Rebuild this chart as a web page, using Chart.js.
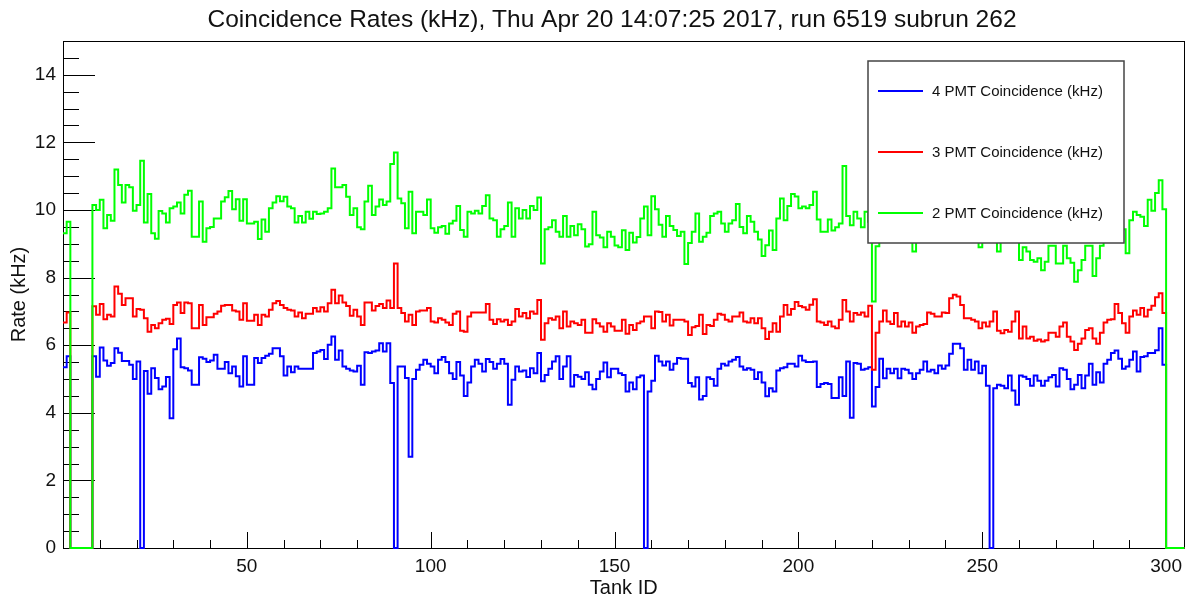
<!DOCTYPE html>
<html>
<head>
<meta charset="utf-8">
<title>Coincidence Rates</title>
<script src="https://cdn.jsdelivr.net/npm/chart.js@4/dist/chart.umd.min.js"></script>
<style>
  html, body { margin: 0; padding: 0; background: #fff; }
  #wrap { width: 1189px; height: 603px; position: relative; }
</style>
</head>
<body>
<div id="wrap"><canvas id="rates"></canvas></div>
<script>
const TITLE = "Coincidence Rates (kHz), Thu Apr 20 14:07:25 2017, run 6519 subrun 262";
const seriesLabels = ["4 PMT Coincidence (kHz)", "3 PMT Coincidence (kHz)", "2 PMT Coincidence (kHz)"];
const seriesColors = ["#0000ff", "#ff0000", "#00ff00"];
const xTickLabels = [50, 100, 150, 200, 250, 300];
const yTickLabels = [0, 2, 4, 6, 8, 10, 12, 14];

// one value per tank bin, bins 0..304
const pmt4 = [
  5.35, 5.67, 0, 0, 0, 0, 0, 0, 5.67, 5.07,
  5.93, 5.55, 5.39, 5.47, 5.91, 5.78, 5.53, 5.53, 5.42, 5.0,
  5.52, 0, 5.24, 4.56, 5.32, 5.03, 4.7, 4.78, 5.06, 3.84,
  5.88, 6.2, 5.35, 5.32, 5.25, 4.83, 4.83, 5.64, 5.6, 5.5,
  5.55, 5.72, 5.3, 5.3, 5.5, 5.17, 5.37, 5.08, 4.78, 5.67,
  4.83, 4.83, 5.62, 5.47, 5.62, 5.69, 5.75, 5.91, 5.91, 5.67,
  5.1, 5.37, 5.2, 5.37, 5.3, 5.3, 5.3, 5.3, 5.77, 5.81,
  5.86, 5.59, 6.01, 6.26, 5.57, 5.84, 5.37, 5.3, 5.25, 5.22,
  5.39, 4.83, 5.79, 5.77, 5.81, 5.84, 6.06, 5.81, 6.06, 4.88,
  0, 5.37, 5.37, 5.03, 2.7, 5.0, 5.27, 5.42, 5.57, 5.45,
  5.37, 5.17, 5.57, 5.65, 5.5, 5.17, 5.0, 5.5, 5.1, 4.5,
  4.9, 5.37, 5.57, 5.45, 5.22, 5.59, 5.5, 5.3, 5.45, 5.59,
  5.45, 4.24, 4.98, 5.37, 5.22, 5.25, 5.06, 5.32, 5.17, 5.77,
  4.93, 5.12, 5.3, 5.52, 5.67, 5.0, 5.37, 5.67, 4.78, 5.12,
  5.07, 5.0, 5.2, 4.83, 4.7, 5.0, 5.22, 5.49, 5.05, 5.3,
  5.3, 5.17, 5.12, 4.63, 4.9, 4.7, 5.05, 5.1, 0, 4.63,
  4.95, 5.69, 5.52, 5.4, 5.52, 5.27, 5.45, 5.62, 5.6, 5.6,
  4.88, 4.78, 5.05, 4.39, 4.5, 5.05, 5.0, 4.8, 5.3, 5.45,
  5.4, 5.52, 5.57, 5.65, 5.37, 5.27, 5.32, 5.27, 5.0, 5.2,
  4.9, 4.49, 4.73, 4.63, 5.25, 5.32, 5.35, 5.45, 5.45, 5.37,
  5.69, 5.55, 5.5, 5.5, 5.52, 4.76, 4.85, 4.88, 4.85, 4.44,
  4.44, 5.05, 4.5, 5.52, 3.85, 5.47, 5.45, 5.27, 5.3, 5.35,
  4.19, 4.76, 5.6, 5.02, 5.3, 5.17, 5.3, 5.02, 5.3, 5.27,
  5.17, 5.0, 5.17, 5.27, 5.52, 5.22, 5.27, 5.17, 5.4, 5.3,
  5.4, 5.75, 6.04, 6.04, 5.91, 5.27, 5.57, 5.27, 5.52, 5.17,
  5.39, 4.8, 0, 4.73, 4.83, 4.8, 4.73, 5.1, 4.66, 4.24,
  5.1, 5.07, 5.0, 4.8, 5.1, 4.95, 4.8, 4.95, 5.05, 5.12,
  4.78, 5.32, 5.27, 5.0, 4.7, 4.83, 5.12, 4.73, 5.1, 5.45,
  4.83, 5.2, 4.9, 5.45, 5.57, 5.77, 5.84, 5.6, 5.3, 5.37,
  5.57, 5.81, 5.22, 5.65, 5.67, 5.77, 5.77, 5.85, 6.5, 5.42,
  0, 0, 0, 0, 0
];

const pmt3 = [
  6.67, 6.97, 0, 0, 0, 0, 0, 0, 7.15, 6.9,
  7.22, 6.77, 6.9, 6.85, 7.74, 7.52, 7.19, 7.39, 7.39, 6.85,
  7.07, 7.05, 6.8, 6.4, 6.6, 6.5, 6.65, 6.75, 6.78, 6.63,
  7.19, 7.26, 6.95, 7.26, 7.24, 6.5, 6.5, 7.19, 6.6, 6.83,
  6.83, 6.93, 7.0, 7.17, 7.19, 7.19, 7.03, 7.0, 6.75, 7.24,
  6.72, 6.72, 6.9, 6.6, 6.9, 6.85, 7.05, 7.24, 7.31, 7.19,
  7.1, 7.05, 7.03, 6.85, 6.97, 6.8, 6.93, 6.93, 7.1, 7.0,
  7.12, 7.0, 7.24, 7.64, 7.24, 7.47, 7.26, 7.16, 6.87, 7.05,
  6.85, 6.6, 7.26, 7.26, 7.03, 7.16, 7.22, 7.1, 7.32, 7.1,
  8.42, 7.1, 6.95, 6.7, 6.9, 6.6, 7.0, 7.03, 7.03, 7.1,
  6.7, 6.67, 6.8, 6.75, 6.67, 6.6, 6.93, 7.0, 6.43, 6.4,
  6.85, 6.97, 6.97, 6.97, 6.97, 7.22, 6.75, 6.63, 6.77, 6.7,
  6.75, 6.6, 6.7, 7.07, 6.85, 6.95, 6.8, 7.0, 6.93, 7.34,
  6.16, 6.65, 6.8, 6.75, 6.85, 6.5, 7.0, 6.55, 6.7, 6.65,
  6.6, 6.75, 6.37, 6.37, 6.77, 6.65, 6.55, 6.4, 6.65, 6.55,
  6.43, 6.43, 6.75, 6.34, 6.6, 6.45, 6.65, 6.7, 6.85, 6.85,
  6.5, 7.0, 6.98, 6.7, 6.9, 6.58, 6.75, 6.75, 6.75, 6.7,
  6.3, 6.53, 6.57, 6.9, 6.33, 6.6, 6.57, 6.75, 6.93, 6.9,
  6.75, 6.7, 6.85, 6.85, 6.97, 6.7, 6.67, 6.8, 6.65, 6.8,
  6.5, 6.18, 6.4, 6.65, 6.4, 6.85, 7.19, 6.9, 7.07, 7.28,
  7.16, 7.12, 7.05, 7.2, 7.36, 6.7, 6.67, 6.6, 6.7, 6.55,
  6.5, 6.75, 7.34, 7.0, 6.7, 6.95, 6.9, 6.97, 6.85, 7.17,
  5.27, 6.37, 6.7, 7.03, 6.7, 6.63, 6.95, 6.55, 6.7, 6.55,
  6.67, 6.37, 6.55, 6.6, 6.63, 6.97, 6.93, 6.85, 6.85, 6.97,
  6.95, 7.39, 7.49, 7.44, 7.19, 6.8, 6.8, 6.75, 6.7, 6.5,
  6.67, 6.55, 6.7, 7.0, 6.43, 6.35, 6.45, 6.4, 6.7, 7.0,
  6.2, 6.55, 6.2, 6.25, 6.13, 6.17, 6.11, 6.15, 6.37, 6.37,
  6.25, 6.55, 6.67, 6.25, 6.11, 5.86, 6.04, 6.2, 6.45, 6.5,
  6.2, 6.04, 6.37, 6.67, 6.75, 6.77, 7.22, 6.95, 6.65, 6.37,
  6.85, 7.03, 6.9, 7.1, 6.85, 7.05, 7.17, 7.42, 7.54, 6.95,
  0, 0, 0, 0, 0
];

const pmt2 = [
  9.31, 9.65, 0, 0, 0, 0, 0, 0, 10.15, 10.0,
  10.3, 9.46, 9.85, 9.68, 11.2, 10.74, 10.22, 10.74, 10.67, 9.98,
  10.15, 11.46, 9.63, 10.47, 9.31, 9.15, 9.97, 9.9, 9.63, 10.05,
  10.1, 10.22, 9.9, 10.45, 10.57, 9.21, 9.21, 10.25, 9.06, 9.46,
  9.5, 9.75, 9.75, 10.25, 10.38, 10.56, 10.02, 10.32, 9.68, 10.32,
  9.6, 9.6, 9.65, 9.14, 9.72, 9.36, 10.05, 10.22, 10.41, 10.26,
  10.39, 10.1, 10.05, 9.63, 9.82, 9.63, 9.95, 9.74, 9.95, 9.88,
  9.9, 9.95, 10.05, 11.23, 10.67, 10.67, 10.74, 10.39, 9.85, 10.05,
  9.49, 9.43, 10.25, 10.72, 9.85, 10.1, 10.31, 10.15, 10.25, 11.36,
  11.7, 10.34, 10.2, 9.46, 10.54, 9.31, 9.95, 9.95, 9.85, 10.31,
  9.46, 9.33, 9.49, 9.53, 9.3, 9.6, 9.68, 10.12, 9.41, 9.21,
  9.95, 9.9, 9.98, 9.9, 10.12, 10.44, 9.75, 9.7, 9.21, 9.43,
  9.53, 10.22, 9.21, 10.05, 9.75, 10.0, 9.75, 10.12, 10.0, 10.37,
  8.42, 9.43, 9.49, 9.7, 9.36, 9.21, 9.82, 9.21, 9.53, 9.25,
  9.58, 9.43, 8.92, 8.99, 9.95, 9.25, 9.19, 8.9, 9.36, 9.21,
  8.95, 8.9, 9.4, 8.82, 9.33, 9.04, 9.2, 9.75, 10.1, 9.25,
  10.41, 10.02, 9.56, 9.21, 9.82, 9.53, 9.41, 9.23, 9.36, 8.4,
  9.02, 9.36, 9.9, 9.06, 9.21, 9.33, 9.82, 9.9, 9.95, 9.6,
  9.36, 9.6, 9.7, 10.18, 9.5, 9.31, 9.82, 9.65, 9.36, 9.13,
  8.64, 8.96, 9.39, 8.82, 9.75, 10.34, 9.7, 10.12, 10.47, 10.4,
  10.05, 10.1, 10.05, 10.15, 10.54, 9.72, 9.36, 9.36, 9.72, 9.39,
  9.49, 9.6, 11.3, 9.82, 9.55, 9.95, 9.75, 9.49, 9.95, 9.65,
  7.29, 8.93, 9.4, 9.6, 9.3, 9.5, 9.8, 9.4, 9.2, 9.6,
  9.3, 8.77, 9.5, 9.7, 9.4, 9.9, 9.6, 9.3, 9.8, 9.5,
  10.0, 10.3, 10.5, 10.2, 9.8, 9.4, 9.6, 9.3, 9.5, 8.9,
  9.4, 9.2, 9.5, 9.3, 8.77, 9.2, 9.4, 9.3, 9.6, 9.2,
  8.52, 8.9, 8.77, 8.52, 8.47, 8.57, 8.22, 8.47, 8.94, 8.94,
  8.42, 8.42, 8.94, 8.57, 8.44, 7.88, 8.22, 8.52, 8.94, 8.94,
  8.05, 8.57, 8.94, 9.1, 9.3, 9.5, 9.4, 9.6, 9.43, 8.72,
  9.7, 9.95, 9.85, 9.8, 9.53, 10.3, 9.98, 10.5, 10.88, 10.02,
  0, 0, 0, 0, 0
];

const FONT = "'Liberation Sans', Arial, Helvetica, sans-serif";
const NBINS = pmt2.length;

// histogram outline: each bin holds its value over [i, i+1)
function histPoints(vals) {
  const pts = vals.map((v, i) => ({ x: i, y: v }));
  pts.push({ x: vals.length, y: vals[vals.length - 1] });
  return pts;
}

const rootFrame = {
  id: 'rootFrame',
  beforeDatasetsDraw(chart) {
    const { ctx, chartArea: a, scales: { x, y } } = chart;
    ctx.save();
    ctx.strokeStyle = '#000';
    ctx.lineWidth = 1;
    // ticks point into the frame, ROOT style
    for (let v = 10; v < NBINS; v += 10) {
      const px = Math.round(x.getPixelForValue(v)) + 0.5;
      const len = v % 50 === 0 ? 16 : 8;
      ctx.beginPath();
      ctx.moveTo(px, a.bottom);
      ctx.lineTo(px, a.bottom - len);
      ctx.stroke();
    }
    for (let v = 0.5; v < y.max; v += 0.5) {
      const py = Math.round(y.getPixelForValue(v)) + 0.5;
      const len = v % 2 === 0 ? 32 : 16;
      ctx.beginPath();
      ctx.moveTo(a.left, py);
      ctx.lineTo(a.left + len, py);
      ctx.stroke();
    }
    ctx.strokeRect(Math.round(a.left) + 0.5, Math.round(a.top) + 0.5,
      Math.round(a.right - a.left), Math.round(a.bottom - a.top));
    ctx.restore();
  },
  afterDatasetsDraw(chart) {
    const { ctx } = chart;
    const box = { left: 868, top: 61, right: 1124, bottom: 243 };
    ctx.save();
    ctx.fillStyle = '#fff';
    ctx.fillRect(box.left, box.top, box.right - box.left, box.bottom - box.top);
    ctx.strokeStyle = '#444';
    ctx.lineWidth = 1.5;
    ctx.strokeRect(box.left, box.top, box.right - box.left, box.bottom - box.top);
    const rows = [91, 152, 213];
    ctx.font = '15px ' + FONT;
    ctx.textBaseline = 'middle';
    ctx.textAlign = 'left';
    seriesLabels.forEach((label, i) => {
      ctx.strokeStyle = seriesColors[i];
      ctx.lineWidth = 2;
      ctx.beginPath();
      ctx.moveTo(878, rows[i]);
      ctx.lineTo(923, rows[i]);
      ctx.stroke();
      ctx.fillStyle = '#111';
      ctx.fillText(label, 932, rows[i] + 1);
    });
    ctx.restore();
  },
  afterDraw(chart) {
    const { ctx } = chart;
    ctx.save();
    ctx.font = '24.5px ' + FONT;
    ctx.fillStyle = '#111';
    ctx.textAlign = 'center';
    ctx.textBaseline = 'middle';
    ctx.fillText(TITLE, 612, 20);
    ctx.restore();
  }
};

const tickFont = { family: FONT, size: 19 };
const titleFont = { family: FONT, size: 20 };

new Chart(document.getElementById('rates'), {
  type: 'line',
  data: {
    datasets: [
      { label: seriesLabels[2], data: histPoints(pmt2), borderColor: seriesColors[2], order: 0, clip: 3 },
      { label: seriesLabels[1], data: histPoints(pmt3), borderColor: seriesColors[1], order: 1, clip: 3 },
      { label: seriesLabels[0], data: histPoints(pmt4), borderColor: seriesColors[0], order: 2, clip: 3 }
    ]
  },
  options: {
    responsive: true,
    maintainAspectRatio: false,
    animation: false,
    parsing: false,
    normalized: true,
    layout: { padding: { top: 41, right: 3, left: 0, bottom: 0 } },
    elements: {
      line: { borderWidth: 2, stepped: true, tension: 0, borderJoinStyle: 'miter', borderCapStyle: 'butt', fill: false },
      point: { radius: 0, hoverRadius: 0 }
    },
    scales: {
      x: {
        type: 'linear',
        min: 0,
        max: NBINS,
        grid: { display: false, drawTicks: false },
        border: { display: false },
        ticks: { padding: 7, color: '#111', font: tickFont, maxRotation: 0, autoSkip: false },
        afterBuildTicks: s => { s.ticks = xTickLabels.map(v => ({ value: v })); },
        afterFit: s => { s.height = 55; },
        title: { display: true, text: 'Tank ID', color: '#111', font: titleFont, padding: { top: 0, bottom: 3 } }
      },
      y: {
        type: 'linear',
        min: 0,
        max: 15,
        grid: { display: false, drawTicks: false },
        border: { display: false },
        ticks: { padding: 7, color: '#111', font: tickFont, autoSkip: false },
        afterBuildTicks: s => { s.ticks = yTickLabels.map(v => ({ value: v })); },
        afterFit: s => { s.width = 63; },
        title: { display: true, text: 'Rate (kHz)', color: '#111', font: titleFont, padding: { top: 7, bottom: 0 } }
      }
    },
    plugins: {
      legend: { display: false },
      title: { display: false },
      tooltip: { enabled: false }
    }
  },
  plugins: [rootFrame]
});
</script>
</body>
</html>
